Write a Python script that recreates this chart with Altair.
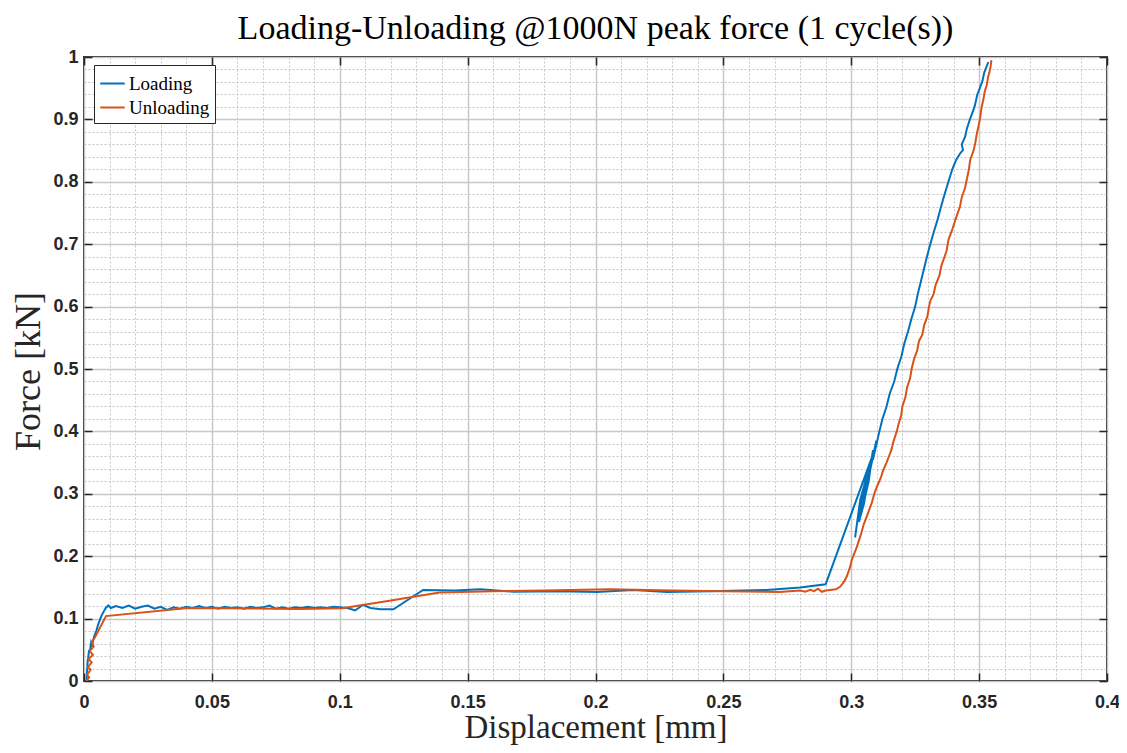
import altair as alt
import pandas as pd

# ---------------- data ----------------
load_x = [0.0010, 0.0012, 0.0015, 0.0013, 0.0020, 0.0022, 0.0028, 0.0032, 0.0040, 0.0048,
          0.0055, 0.0062, 0.0070, 0.0078, 0.0085, 0.0095, 0.0105,
          0.0125, 0.0150, 0.0175, 0.0200, 0.0225, 0.0250, 0.0275, 0.0300, 0.0325, 0.0350,
          0.0375, 0.0400, 0.0425, 0.0450, 0.0475, 0.0500, 0.0525, 0.0550, 0.0575, 0.0600,
          0.0625, 0.0650, 0.0675, 0.0700, 0.0725, 0.0750, 0.0775, 0.0800, 0.0825, 0.0850,
          0.0875, 0.0900, 0.0925, 0.0950, 0.0975, 0.1000,
          0.1030, 0.1060, 0.1090, 0.1120, 0.1160, 0.1210, 0.1270, 0.1326, 0.1450, 0.1550,
          0.1680, 0.1850, 0.2006, 0.2147, 0.2280, 0.2450, 0.2670, 0.2800, 0.2900,
          0.3082, 0.3035, 0.3015, 0.3025, 0.3060, 0.3045, 0.3030, 0.3050, 0.3075, 0.3060,
          0.3040, 0.3068, 0.3085, 0.3070, 0.3098, 0.3085,
          0.3110, 0.3122, 0.3138, 0.3150, 0.3168, 0.3180, 0.3196, 0.3207, 0.3222, 0.3235,
          0.3250, 0.3260, 0.3272, 0.3284, 0.3296, 0.3309, 0.3323, 0.3338, 0.3351, 0.3365,
          0.3380, 0.3395, 0.3410, 0.3425, 0.3437, 0.3432, 0.3445, 0.3452, 0.3464, 0.3482,
          0.3493, 0.3512, 0.3520, 0.3536]
load_y = [0.000, 0.015, 0.035, 0.025, 0.050, 0.045, 0.062, 0.058, 0.072, 0.080,
          0.090, 0.098, 0.106, 0.112, 0.117, 0.121, 0.117,
          0.120, 0.117, 0.121, 0.116, 0.119, 0.121, 0.116, 0.119, 0.114, 0.118,
          0.116, 0.119, 0.117, 0.120, 0.117, 0.119, 0.116, 0.119, 0.117, 0.118,
          0.116, 0.119, 0.117, 0.118, 0.121, 0.116, 0.118, 0.116, 0.118, 0.117,
          0.119, 0.117, 0.118, 0.117, 0.119, 0.118,
          0.117, 0.113, 0.122, 0.117, 0.115, 0.115, 0.131, 0.146, 0.145, 0.147,
          0.143, 0.144, 0.1426, 0.146, 0.1426, 0.144, 0.146, 0.150, 0.155,
          0.360, 0.290, 0.230, 0.260, 0.330, 0.290, 0.255, 0.285, 0.345, 0.310,
          0.270, 0.320, 0.370, 0.330, 0.385, 0.355,
          0.400, 0.420, 0.440, 0.460, 0.480, 0.500, 0.520, 0.540, 0.560, 0.580,
          0.600, 0.620, 0.640, 0.660, 0.680, 0.700, 0.720, 0.740, 0.760, 0.780,
          0.800, 0.820, 0.835, 0.845, 0.851, 0.860, 0.872, 0.885, 0.900, 0.920,
          0.940, 0.960, 0.975, 0.992]

unload_x = [0.3548, 0.3545, 0.3540, 0.3535, 0.3530, 0.3522, 0.3518, 0.3510, 0.3503, 0.3498,
            0.3490, 0.3485, 0.3478, 0.3465, 0.3460, 0.3450, 0.3445, 0.3432, 0.3425, 0.3412,
            0.3400, 0.3392, 0.3380, 0.3373, 0.3365, 0.3352, 0.3345, 0.3330, 0.3322, 0.3310,
            0.3304, 0.3298, 0.3285, 0.3278, 0.3265, 0.3258, 0.3245, 0.3236, 0.3230, 0.3218,
            0.3212, 0.3200, 0.3195, 0.3185, 0.3178, 0.3163, 0.3158, 0.3152, 0.3138, 0.3125,
            0.3115, 0.3100, 0.3090, 0.3080, 0.3068, 0.3060, 0.3048, 0.3040, 0.3030, 0.3022,
            0.3002, 0.2995, 0.2982, 0.2970, 0.2956, 0.2940, 0.2917,
            0.2900, 0.2885, 0.2870, 0.2855, 0.2840, 0.2820, 0.2800, 0.2720, 0.2500, 0.2300,
            0.2057, 0.1800, 0.1600, 0.1390, 0.1200, 0.1010, 0.0844, 0.0405, 0.0086,
            0.0043, 0.0030, 0.0038, 0.0022, 0.0035, 0.0018, 0.0030, 0.0015, 0.0026, 0.0012,
            0.0020, 0.0010]
unload_y = [0.995, 0.985, 0.975, 0.968, 0.955, 0.945, 0.935, 0.920, 0.900, 0.890,
            0.875, 0.862, 0.850, 0.835, 0.820, 0.800, 0.790, 0.775, 0.760, 0.745,
            0.730, 0.720, 0.707, 0.690, 0.680, 0.665, 0.650, 0.635, 0.620, 0.610,
            0.600, 0.585, 0.570, 0.555, 0.545, 0.530, 0.515, 0.500, 0.485, 0.470,
            0.455, 0.440, 0.425, 0.412, 0.400, 0.381, 0.372, 0.365, 0.350, 0.338,
            0.325, 0.311, 0.300, 0.285, 0.272, 0.263, 0.250, 0.238, 0.225, 0.215,
            0.194, 0.182, 0.167, 0.158, 0.151, 0.147, 0.146,
            0.145, 0.143, 0.148, 0.144, 0.146, 0.143, 0.145, 0.1426, 0.144, 0.145,
            0.147, 0.145, 0.144, 0.142, 0.129, 0.1165, 0.1154, 0.117, 0.104,
            0.070, 0.062, 0.055, 0.048, 0.042, 0.035, 0.030, 0.022, 0.018, 0.010,
            0.006, 0.000]

series_names = ["Loading", "Unloading"]
series_colors = ["#0072BD", "#D95319"]

x_ticks = [0, 0.05, 0.1, 0.15, 0.2, 0.25, 0.3, 0.35, 0.4]
y_ticks = [0, 0.1, 0.2, 0.3, 0.4, 0.5, 0.6, 0.7, 0.8, 0.9, 1]
x_minor = [0.01, 0.02, 0.03, 0.04, 0.06, 0.07, 0.08, 0.09, 0.11, 0.12, 0.13, 0.14,
           0.16, 0.17, 0.18, 0.19, 0.21, 0.22, 0.23, 0.24, 0.26, 0.27, 0.28, 0.29,
           0.31, 0.32, 0.33, 0.34, 0.36, 0.37, 0.38, 0.39]
y_minor = [0.02, 0.04, 0.06, 0.08, 0.12, 0.14, 0.16, 0.18, 0.22, 0.24, 0.26, 0.28,
           0.32, 0.34, 0.36, 0.38, 0.42, 0.44, 0.46, 0.48, 0.52, 0.54, 0.56, 0.58,
           0.62, 0.64, 0.66, 0.68, 0.72, 0.74, 0.76, 0.78, 0.82, 0.84, 0.86, 0.88,
           0.92, 0.94, 0.96, 0.98]

title_text = "Loading-Unloading @1000N peak force (1 cycle(s))"
x_title = "Displacement [mm]"
y_title = "Force [kN]"

rows = []
for i, (xv, yv) in enumerate(zip(load_x, load_y)):
    rows.append({"series": "Loading", "idx": i, "x": xv, "y": yv})
for i, (xv, yv) in enumerate(zip(unload_x, unload_y)):
    rows.append({"series": "Unloading", "idx": i, "x": xv, "y": yv})
df = pd.DataFrame(rows)

W, H = 1023, 624
SERIF = "Liberation Serif"
SANS = "Liberation Sans"
INK = "#262626"


def xs():
    return alt.Scale(domain=[0, 0.4], nice=False, zero=False)


def ys():
    return alt.Scale(domain=[0, 1], nice=False, zero=False)


# minor dotted grid
minor = alt.Chart(df).mark_line(strokeOpacity=0).encode(
    x=alt.X("x:Q", scale=xs(), axis=alt.Axis(orient="bottom", values=x_minor, grid=True,
                                              gridColor="#c4c4c4", gridDash=[2, 2],
                                              gridWidth=1, labels=False, ticks=False,
                                              domain=False, title=None)),
    y=alt.Y("y:Q", scale=ys(), axis=alt.Axis(orient="left", values=y_minor, grid=True,
                                              gridColor="#c4c4c4", gridDash=[2, 2],
                                              gridWidth=1, labels=False, ticks=False,
                                              domain=False, title=None)),
    detail="series:N",
)

# data lines, labels, major grid
main = alt.Chart(df).mark_line(strokeWidth=2).encode(
    x=alt.X("x:Q", scale=xs(), axis=alt.Axis(
        orient="bottom", values=x_ticks, format="~g", grid=True, gridColor="#c8c8c8",
        gridWidth=1.5, ticks=False, tickSize=0, domain=False, labelFont=SANS,
        labelFontWeight="bold", labelFontSize=18, labelColor=INK, labelPadding=12,
        labelFlush=False, labelOverlap=False, title=x_title, titleFont=SERIF,
        titleFontSize=33, titleFontWeight="normal", titleColor=INK, titleX=W / 2,
        titleY=56, titleAlign="center", titleBaseline="alphabetic")),
    y=alt.Y("y:Q", scale=ys(), axis=alt.Axis(
        orient="left", values=y_ticks, format="~g", grid=True, gridColor="#c8c8c8",
        gridWidth=1.5, ticks=False, tickSize=0, domain=False, labelFont=SANS,
        labelFontWeight="bold", labelFontSize=18, labelColor=INK, labelPadding=6,
        labelFlush=False, labelOverlap=False, title=y_title, titleFont=SERIF,
        titleFontSize=36, titleFontWeight="normal", titleColor=INK, titleX=-45,
        titleY=H / 2 + 2, titleAngle=270, titleAlign="center",
        titleBaseline="alphabetic")),
    color=alt.Color("series:N", scale=alt.Scale(domain=series_names, range=series_colors),
                    legend=alt.Legend(title=None, orient="none", legendX=10, legendY=8,
                                      fillColor="white", strokeColor=INK, padding=5,
                                      symbolType="stroke", symbolSize=600,
                                      symbolStrokeWidth=2, labelFont=SERIF,
                                      labelFontSize=19, labelColor="black",
                                      rowPadding=0, labelOffset=3)),
    order="idx:Q",
)


def tick_axis(orient, offset, values):
    return alt.Axis(orient=orient, offset=offset, values=values, labels=False, domain=False,
                    grid=False, ticks=True, tickSize=8, tickWidth=1.5, tickColor=INK,
                    title=None)


# inward ticks: bottom & left edges
ticks_a = alt.Chart(df).mark_line(strokeOpacity=0).encode(
    x=alt.X("x:Q", scale=xs(), axis=tick_axis("top", -H, x_ticks)),
    y=alt.Y("y:Q", scale=ys(), axis=tick_axis("right", -W, y_ticks)),
    detail="series:N",
)
# inward ticks: top & right edges
ticks_b = alt.Chart(df).mark_line(strokeOpacity=0).encode(
    x=alt.X("x:Q", scale=xs(), axis=tick_axis("bottom", -H, x_ticks)),
    y=alt.Y("y:Q", scale=ys(), axis=tick_axis("left", -W, y_ticks)),
    detail="series:N",
)

# chart title as a text placed above the plot frame
title_layer = alt.Chart(pd.DataFrame({"t": [title_text]})).mark_text(
    font=SERIF, fontSize=34, color="black", align="center", baseline="alphabetic"
).encode(text="t:N", x=alt.value(W / 2), y=alt.value(-18))

chart = alt.layer(minor, main, ticks_a, ticks_b, title_layer).resolve_scale(
    x="independent", y="independent"
).properties(
    width=W,
    height=H,
    padding={"left": 76, "top": 49, "right": 12, "bottom": 64},
    autosize=alt.AutoSizeParams(type="none"),
).configure_view(stroke=INK, strokeWidth=2)

chart.save("out.html", embed_options={"renderer": "svg", "actions": False})
